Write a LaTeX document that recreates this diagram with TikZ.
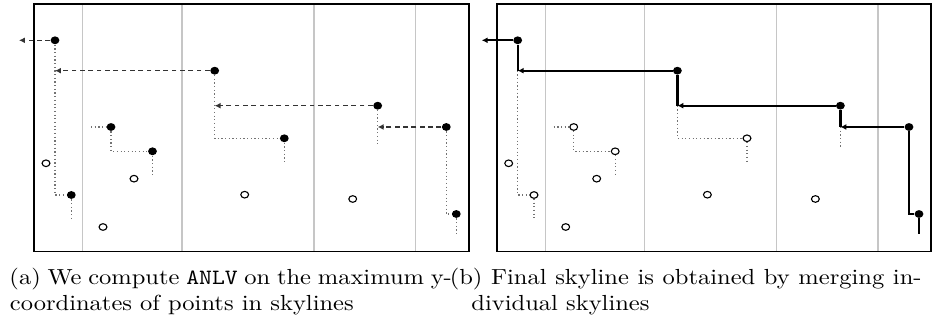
\documentclass[tikz,border=0pt]{standalone}
\usepackage{graphicx}
\usetikzlibrary{arrows.meta,shapes.geometric}
\newcommand\skypanel[2]{%
  \foreach \x in {82.7,182,314,415.3} \draw[colline] (\x,4.3) -- (\x,251.5);
  \draw[boxframe] (34,4.3) rectangle (468.7,251.5);
  \node[fdot] (#1P1) at (55,40.3) {};
  \node[fdot] (#1P2) at (214.7,70.7) {};
  \node[fdot] (#1P3) at (377.7,105.7) {};
  \node[fdot] (#1P4) at (446.3,127) {};
  \node[fdot] (#1P5) at (456.3,214) {};
  \node[#2] (#1P6) at (71.3,195) {};
  \node[#2] (#1P7) at (111,127) {};
  \node[#2] (#1P8) at (152.5,151.3) {};
  \node[#2] (#1P9) at (284.3,138.3) {};
  \node[odot] (#1O1) at (46,163.3) {};
  \node[odot] (#1O2) at (103,227) {};
  \node[odot] (#1O3) at (134,178.7) {};
  \node[odot] (#1O4) at (244.7,194.7) {};
  \node[odot] (#1O5) at (352.7,199) {};
  \coordinate (#1L) at (19,40.3);
  \coordinate (#1E6) at (71.3,218.3);
  \coordinate (#1S7) at (91,127);
  \coordinate (#1E8) at (152.5,175);
  \coordinate (#1E9) at (284.3,162.7);
  \coordinate (#1E3) at (377.7,146.7);
  \coordinate (#1E5) at (456.3,234.3);
  \draw[dotline] (#1S7) -- (#1P7);
  \draw[dotline] (#1P7) -- (#1P7 |- #1P8) -- (#1P8);
  \draw[dotline] (#1P8) -- (#1E8);
  \draw[dotline] (#1P6) -- (#1E6);
  \draw[dotline] (#1P9) -- (#1E9);
}
\begin{document}
\begin{tikzpicture}[x=0.408pt,y=-0.408pt,
  boxframe/.style={line width=0.8pt},
  colline/.style={gray!45,line width=0.45pt},
  fdot/.style={ellipse,fill=black,inner sep=0pt,minimum width=3.6pt,minimum height=3.2pt},
  odot/.style={ellipse,draw=black,fill=white,line width=0.45pt,inner sep=0pt,minimum width=3.2pt,minimum height=2.7pt},
  dotline/.style={gray!90!black,densely dotted,line width=0.5pt},
  smalltip/.style={-{Latex[length=2.4pt,width=2.4pt]}},
  dshline/.style={black!80,dash pattern=on 2pt off 1.4pt,line width=0.5pt,smalltip},
  skyline/.style={black,line width=0.95pt},
  skyarrow/.style={skyline,smalltip},
  captext/.style={anchor=base west,inner sep=0pt}]
\useasboundingbox (0,0) rectangle (933,320);
% panel (a)
\skypanel{a}{fdot}
\draw[dotline] (aP1) -- (aP1 |- aP6) -- (aP6);
\draw[dotline] (aP2) -- (aP2 |- aP9) -- (aP9);
\draw[dotline] (aP3) -- (aE3);
\draw[dotline] (aP4) -- (aP4 |- aP5) -- (aP5);
\draw[dotline] (aP5) -- (aE5);
\draw[dshline] (aP1) -- (aL);
\draw[dshline] (aP2) -- (aP1 |- aP2);
\draw[dshline] (aP3) -- (aP2 |- aP3);
\draw[dshline] (aP4) -- (aP3 |- aP4);
% panel (b)
\begin{scope}[shift={(462.7,0)}]
\skypanel{b}{odot}
\draw[dotline] (bP1 |- bP2) -- (bP1 |- bP6) -- (bP6);
\draw[dotline] (bP2 |- bP3) -- (bP2 |- bP9) -- (bP9);
\draw[dotline] (bP3 |- bP4) -- (bE3);
\draw[skyarrow] (bP1) -- (bL);
\draw[skyline] (bP1) -- (bP1 |- bP2);
\draw[skyarrow] (bP2) -- (bP1 |- bP2);
\draw[skyline] (bP2) -- (bP2 |- bP3);
\draw[skyarrow] (bP3) -- (bP2 |- bP3);
\draw[skyline] (bP3) -- (bP3 |- bP4);
\draw[skyarrow] (bP4) -- (bP3 |- bP4);
\draw[skyline] (bP4) -- (bP4 |- bP5) -- (bP5);
\draw[skyline] (bP5) -- (bE5);
\end{scope}
% captions
\node[captext] (capa1) at (9,284.3) {\scalebox{1}[0.89]{\makebox[180.5pt][s]{(a) We compute \texttt{ANLV} on the maximum y-}}};
\node[captext] (capa2) at (9.5,310.7) {\scalebox{1}[0.89]{coordinates of points in skylines}};
\node[captext] (capb1) at (449.3,284.3) {\scalebox{1}[0.89]{\makebox[192.5pt][s]{(b) Final skyline is obtained by merging in-}}};
\node[captext] (capb2) at (471,310.7) {\scalebox{1}[0.89]{dividual skylines}};
\end{tikzpicture}
\end{document}
